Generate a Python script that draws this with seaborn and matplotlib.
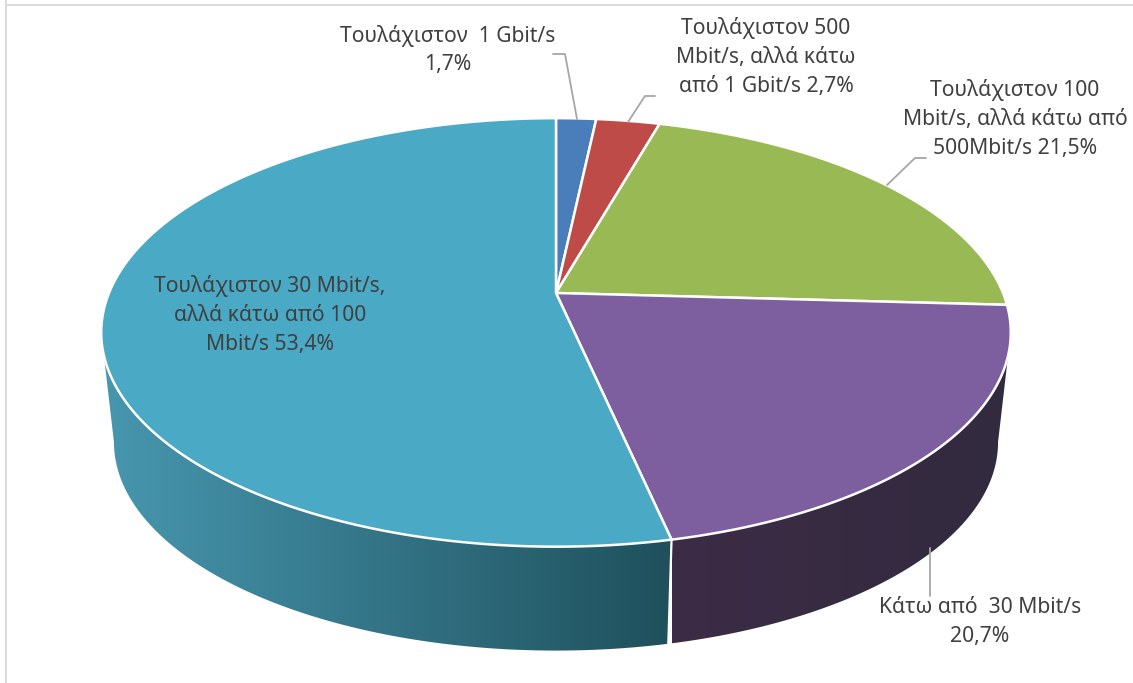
import numpy as np
import seaborn as sns
import matplotlib.pyplot as plt
from matplotlib.colors import to_rgb
from matplotlib.patches import Polygon

# data
labels = ["Τουλάχιστον  1 Gbit/s\n1,7%",
          "Τουλάχιστον 500\nMbit/s, αλλά κάτω\nαπό 1 Gbit/s 2,7%",
          "Τουλάχιστον 100\nMbit/s, αλλά κάτω από\n500Mbit/s 21,5%",
          "Κάτω από  30 Mbit/s\n20,7%",
          "Τουλάχιστον 30 Mbit/s,\nαλλά κάτω από 100\nMbit/s 53,4%"]
values = [1.7, 2.7, 21.5, 20.7, 53.4]
top_colors = ["#4A7EBB", "#BE4B48", "#98B954", "#7D5FA0", "#4AA9C4"]
side_left = ["#2F5078", "#7A302E", "#617636", "#3C2C45", "#4797AF"]
side_right = ["#2F5078", "#7A302E", "#617636", "#322A3F", "#1F505C"]

sns.set_theme(style="white")
plt.rcParams['font.family'] = ['Noto Sans', 'DejaVu Sans']

# perspective of the pie, in pixels
cx, cy = 556, 293
a, b, k = 447, 207, 0.184
depth_y, depth_s = 111, 0.972


def top_rim(t):
    u, v = np.sin(t), np.cos(t)
    w = 1 + k * v
    return cx + a * u / w, cy - b * v / w


def low_rim(t):
    u, v = np.sin(t), np.cos(t)
    w = 1 + k * v
    return cx + depth_s * a * u / w, cy + depth_y - depth_s * b * v / w


fig = plt.figure(figsize=(11.33, 6.83), dpi=100)
ax = fig.add_axes([0, 0, 1, 1])

edges = np.cumsum([0] + values) / sum(values) * 2 * np.pi

# only the front of the wall can be seen, between the two silhouette angles
t_right = np.arctan2(np.sqrt(1 - k ** 2), -k)
t_left = 2 * np.pi - t_right

# side wall: horizontal gradient clipped to the wall outline
for i in range(len(values)):
    t0, t1 = max(edges[i], t_right), min(edges[i + 1], t_left)
    if t0 >= t1:
        continue
    t = np.linspace(t0, t1, 300)
    xs, ys = top_rim(t)
    xl, yl = low_rim(t)
    c0, c1 = np.array(to_rgb(side_left[i])), np.array(to_rgb(side_right[i]))
    grad = np.linspace(0, 1, 256)[None, :, None] * (c1 - c0) + c0
    outline = np.c_[np.r_[xs, xl[::-1]], np.r_[ys, yl[::-1]]]
    im = ax.imshow(grad, extent=[xs.min(), xs.max(), yl.max(), ys.min()], aspect="auto",
                   interpolation="bilinear", zorder=1)
    im.set_clip_path(Polygon(outline, closed=True, transform=ax.transData))

# white seam between the two visible side walls
seam = edges[4]
sns.lineplot(x=[top_rim(seam)[0], low_rim(seam)[0]], y=[top_rim(seam)[1], low_rim(seam)[1]],
             color="white", lw=1.6, sort=False, estimator=None, ax=ax, zorder=2)

# top face
for i in range(len(values)):
    t = np.linspace(edges[i], edges[i + 1], 300)
    xs, ys = top_rim(t)
    ax.fill(np.r_[cx, xs], np.r_[cy, ys], facecolor=top_colors[i], edgecolor="white",
            lw=1.8, joinstyle="round", zorder=3)

# leader lines
leaders = [([553, 565, 577], [54, 54, 119]),
           ([655, 645, 628], [96, 96, 122]),
           ([926, 915, 887], [158, 158, 185]),
           ([930, 930], [548, 596])]
for lx, ly in leaders:
    sns.lineplot(x=lx, y=ly, color="#A6A6A6", lw=1.3, sort=False, estimator=None, ax=ax, zorder=4)

# labels
label_pos = [(448, 50), (766, 57), (1015, 119), (980, 622), (270, 315)]
for txt, (x, y) in zip(labels, label_pos):
    ax.text(x, y, txt, ha="center", va="center", fontsize=15.2, color="#404040",
            linespacing=1.49, zorder=5)

# picture frame
ax.axvline(6, color="#DCDCDC", lw=1.5)
ax.plot([6, 1133], [5, 5], color="#DCDCDC", lw=1.5)

ax.set_xlim(0, 1133)
ax.set_ylim(683, 0)
ax.axis("off")
fig.savefig("out.png", dpi=100)
